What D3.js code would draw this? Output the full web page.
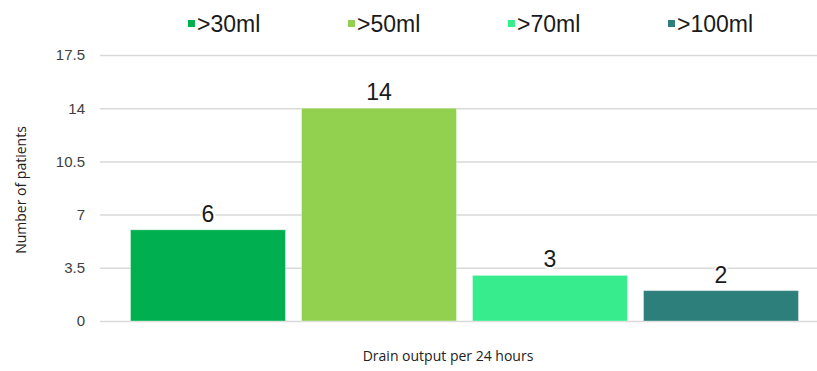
<!DOCTYPE html>
<html>
<head>
<meta charset="utf-8">
<script src="https://cdn.jsdelivr.net/npm/d3@7"></script>
<style>
  html, body { margin: 0; padding: 0; background: #fff; }
  svg { display: block; }
</style>
</head>
<body>
<svg id="chart" width="817" height="371"></svg>
<script>
// Drain output categories and patient counts
const categories = [">30ml", ">50ml", ">70ml", ">100ml"];
const patients = [6, 14, 3, 2];
const colors = ["#00B050", "#92D050", "#37EC8D", "#2D7F7B"];
const yTicks = [0, 3.5, 7, 10.5, 14, 17.5];
const yTitle = "Number of patients";
const xTitle = "Drain output per 24 hours";

const svg = d3.select("#chart");

const y = d3.scaleLinear().domain([0, 17.5]).range([321, 55]);
const x = d3.scaleBand()
  .domain(categories)
  .range([122.5, 806.5])
  .paddingInner(0.094)
  .paddingOuter(0.047);

// Horizontal gridlines with tick labels
const yAxis = d3.axisLeft(y)
  .tickValues(yTicks)
  .tickSize(-717)
  .tickPadding(14)
  .tickFormat(d => String(d));

const gy = svg.append("g")
  .attr("transform", "translate(100,0)")
  .call(yAxis);
gy.select(".domain").remove();
gy.selectAll(".tick line")
  .attr("stroke", "#d9d9d9")
  .attr("stroke-width", 1.5);
gy.selectAll(".tick text")
  .attr("x", -15)
  .attr("fill", "#404040")
  .style("font-family", "Liberation Sans, Arial, sans-serif")
  .style("font-size", "15px");

// Bars
svg.append("g").selectAll("rect")
  .data(categories)
  .join("rect")
  .attr("x", d => x(d))
  .attr("width", x.bandwidth())
  .attr("y", (d, i) => y(patients[i]))
  .attr("height", (d, i) => y(0) - y(patients[i]))
  .attr("fill", (d, i) => colors[i])
  .attr("stroke", "rgba(255,255,255,0.35)")
  .attr("stroke-width", 1);

// Value labels above bars, with a white halo over the gridlines
svg.append("g").selectAll("text")
  .data(categories)
  .join("text")
  .attr("x", d => x(d) + x.bandwidth() / 2)
  .attr("y", (d, i) => y(patients[i]) - 8)
  .attr("text-anchor", "middle")
  .attr("fill", "#1a1a1a")
  .attr("stroke", "#fff")
  .attr("stroke-width", 4)
  .attr("paint-order", "stroke")
  .style("font-family", "Liberation Sans, Arial, sans-serif")
  .style("font-size", "23px")
  .text((d, i) => patients[i]);

// Legend across the top
const legendX = [188, 348, 508, 668];
const legend = svg.append("g").selectAll("g")
  .data(categories)
  .join("g")
  .attr("transform", (d, i) => `translate(${legendX[i]},0)`);
legend.append("rect")
  .attr("x", 0)
  .attr("y", 20)
  .attr("width", 7)
  .attr("height", 7)
  .attr("fill", (d, i) => colors[i]);
legend.append("text")
  .attr("x", 9)
  .attr("y", 32)
  .attr("fill", "#1a1a1a")
  .style("font-family", "Liberation Sans, Arial, sans-serif")
  .style("font-size", "23px")
  .text(d => d);

// Axis titles
svg.append("text")
  .attr("transform", "translate(26,190) rotate(-90)")
  .attr("text-anchor", "middle")
  .attr("fill", "#222")
  .style("font-family", "Open Sans, sans-serif")
  .style("font-size", "14px")
  .text(yTitle);

svg.append("text")
  .attr("x", 448)
  .attr("y", 361)
  .attr("text-anchor", "middle")
  .attr("fill", "#222")
  .style("font-family", "Open Sans, sans-serif")
  .style("font-size", "14px")
  .text(xTitle);
</script>
</body>
</html>
